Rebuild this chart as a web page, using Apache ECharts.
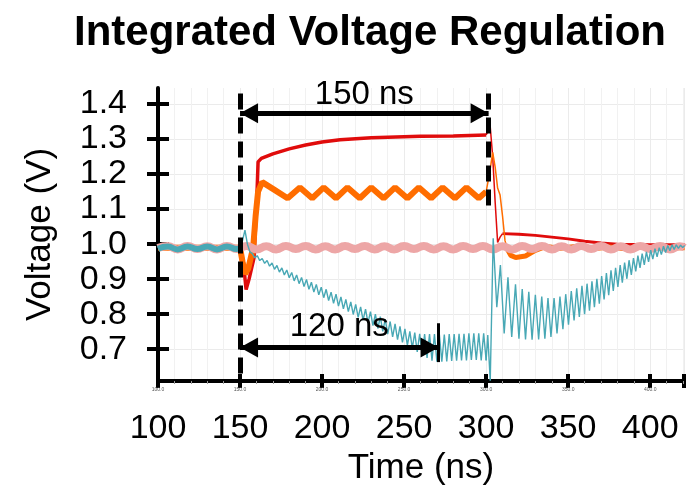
<!DOCTYPE html>
<html><head><meta charset="utf-8">
<script src="https://cdn.jsdelivr.net/npm/echarts@6/dist/echarts.min.js"></script>
<style>html,body{margin:0;padding:0;background:#fff}#c{width:687px;height:491px}</style>
</head><body><div id="c"></div>
<script>
// ---- axis ticks ----
const xTicks = [100, 150, 200, 250, 300, 350, 400];
const yTicks = [0.7, 0.8, 0.9, 1.0, 1.1, 1.2, 1.3, 1.4];

// ---- red trace ----
const redA = [[100,0.99],[150,0.99],[152,0.95],[153.7,0.87],[155.5,0.9],[157,0.93],[158.5,0.96],[160,1.1],[161,1.235],[163,1.245],[170,1.258],[180,1.272],[190,1.283],[200,1.292],[211,1.298],[230,1.304],[260,1.308],[280,1.309],[300,1.312]];
const redB = [[300,1.312],[301.5,1.325],[302.5,1.335],[304,1.25],[305.5,1.12],[307,1.005],[308.5,1.02],[310,1.03]];
const redC = [[310,1.03],[320,1.028],[330,1.025],[340,1.02],[350,1.015],[360,1.008],[370,1.003],[380,1.0],[400,0.998],[421,0.998]];

// ---- orange trace ----
const orangeA = [[100,0.99],[150,0.99],[151.5,0.95],[153,0.915],[155,0.93],[156.5,0.96],[158,0.99],[159.5,1.08],[161,1.15],[163.5,1.177],[171,1.155],[179,1.131],[186.5,1.162],[194,1.131],[201,1.162],[208.5,1.131],[215.5,1.162],[223,1.131],[230,1.162],[237.5,1.131],[244.5,1.162],[252,1.131],[259,1.162],[266.5,1.131],[273.5,1.162],[281,1.131],[288,1.162],[295.5,1.131],[300,1.15]];
const orangeB = [[300,1.15],[302,1.2],[304,1.262],[305.5,1.22],[307,1.16],[308.5,1.14],[310,1.08],[311.5,1.01],[313,0.985]];
const orangeC = [[313,0.985],[315,0.968],[318,0.962],[324,0.966],[330,0.982],[336,0.993],[345,0.988],[355,0.993],[365,0.987],[375,0.992],[385,0.987],[395,0.991],[405,0.989],[421,0.99]];

// ---- pink trace ----
const pink = [[100,0.989],[106,0.995],[112,0.985],[118,0.995],[124,0.986],[130,0.994],[136,0.985],[142,0.995],[148,0.986],[154,0.995],[160,0.985],[166,0.994],[172,0.985],[178,0.995],[184,0.986],[190,0.995],[196,0.985],[202,0.994],[208,0.985],[214,0.995],[220,0.986],[226,0.995],[232,0.985],[238,0.994],[244,0.985],[250,0.995],[256,0.986],[262,0.995],[268,0.985],[274,0.994],[280,0.985],[286,0.995],[292,0.986],[298,0.995],[304,0.985],[310,0.994],[316,0.985],[322,0.995],[328,0.986],[334,0.995],[340,0.985],[346,0.994],[352,0.985],[358,0.995],[364,0.986],[370,0.995],[376,0.985],[382,0.994],[388,0.985],[394,0.995],[400,0.986],[406,0.995],[412,0.985],[418,0.994],[421,0.99]];

// ---- teal trace ----
const tealPre = [[100,0.987],[106,0.993],[112,0.985],[118,0.993],[124,0.986],[130,0.993],[136,0.985],[142,0.993],[148,0.986],[150,0.99]];
const tealDroop = [[150,0.99],[151.5,1.01],[153,1.04],[154.5,1.0],[156,0.978],[157.5,0.973],[159,0.961],[160.5,0.967],[162,0.953],[163.5,0.959],[165,0.945],[166.5,0.953],[168,0.937],[169.5,0.946],[171,0.928],[172.5,0.939],[174,0.920],[175.5,0.932],[177,0.912],[178.5,0.926],[180,0.904],[181.5,0.919],[183,0.895],[184.5,0.912],[186,0.887],[187.5,0.905],[189,0.879],[190.5,0.899],[192,0.871],[193.5,0.891],[195,0.863],[196.5,0.885],[198,0.855],[199.5,0.877],[201,0.847],[202.5,0.871],[204,0.839],[205.5,0.863],[207,0.831],[208.5,0.857],[210,0.823],[211.5,0.849],[213,0.815],[214.5,0.842],[216,0.807],[217.5,0.835],[219,0.799],[220.5,0.828],[222,0.791],[223.5,0.821],[225,0.783],[226.5,0.814],[228,0.775],[229.5,0.807],[231,0.767],[232.5,0.800],[234,0.759],[235.5,0.793],[237,0.751],[238.5,0.786],[240,0.743],[241.5,0.779],[243,0.735],[244.5,0.772],[246,0.727],[247.5,0.765],[249,0.719],[250.5,0.758],[252,0.711],[253.5,0.751],[255,0.703],[256.5,0.747],[258,0.692],[259.5,0.744],[261,0.683],[262.5,0.743],[264,0.675],[265.5,0.743],[267,0.667],[268.5,0.743],[270,0.664],[271.5,0.742],[273,0.664],[274.5,0.742],[276,0.665],[277.5,0.743],[279,0.666],[280.5,0.743],[282,0.667],[283.5,0.744],[285,0.668],[286.5,0.744],[288,0.668],[289.5,0.745],[291,0.669],[292.5,0.745],[294,0.669],[295.5,0.745],[297,0.668],[298.5,0.745],[300,0.668]];
const tealRecover = [[300,0.668],[301,0.74],[302.5,0.61],[304.3,1.017],[306.5,0.82],[308.7,0.94],[311,0.745],[313.3,0.905],[315.6,0.735],[317.9,0.885],[320,0.73],[322,0.872],[324,0.728],[326,0.864],[328,0.727],[330,0.855],[332,0.728],[333.9,0.85],[335.8,0.73],[337.7,0.846],[339.5,0.735],[341.4,0.846],[343.2,0.745],[345,0.85],[346.8,0.757],[348.5,0.857],[350.2,0.77],[351.9,0.866],[353.6,0.782],[355.2,0.874],[356.8,0.792],[358.4,0.881],[360,0.80],[361.5,0.887],[363,0.81],[364.5,0.894],[366,0.82],[367.5,0.901],[369,0.83],[370.4,0.909],[371.9,0.842],[373.3,0.917],[374.7,0.854],[376.1,0.925],[377.5,0.866],[378.9,0.932],[380.3,0.878],[381.7,0.94],[383,0.89],[384.4,0.947],[385.8,0.901],[387.1,0.954],[388.5,0.912],[389.8,0.96],[391.2,0.922],[392.5,0.967],[393.8,0.932],[395.1,0.973],[396.4,0.941],[397.7,0.978],[399,0.949],[400.3,0.983],[401.6,0.957],[402.9,0.987],[404.2,0.964],[405.5,0.99],[406.8,0.97],[408.1,0.994],[409.4,0.976],[410.7,0.996],[412,0.981],[413.3,0.998],[414.6,0.985],[415.9,0.998],[417.2,0.988],[418.5,0.997],[419.8,0.99],[421,0.996]];

// ---- annotations (data coordinates) ----
const stepStart = 150, stepEnd = 301.5, droopEnd = 271;
const arrowTopV = 1.374, arrowLowV = 0.705;
const dashTop = 1.43, dashEndV = 1.1;
const endBar = [0.774, 0.663];
const labelTop = '150 ns', labelLow = '120 ns';

const FONT = '"Liberation Sans", Arial, Helvetica, sans-serif';
const X_MIN = 100, X_MAX = 420.6, Y_MIN = 0.609, Y_MAX = 1.446;

const chart = echarts.init(document.getElementById('c'), null, {renderer: 'canvas'});
const ln = (data, color, w, smooth) => ({
  type: 'line', data, showSymbol: false, smooth: !!smooth, silent: true,
  lineStyle: {color, width: w}, itemStyle: {color}, animation: false, z: 2
});
const arrowLine = {lineStyle: {color: '#000', width: 5, type: 'solid'}};
chart.setOption({
  animation: false,
  title: {text: 'Integrated Voltage Regulation', left: 69, top: 7,
    textStyle: {fontFamily: FONT, fontWeight: 'bold', fontSize: 42, color: '#000'}},
  grid: {left: 158, right: 0, top: 88, bottom: 110, containLabel: false},
  xAxis: [{
    type: 'value', min: X_MIN, max: X_MAX, interval: 50, position: 'bottom',
    name: 'Time (ns)', nameLocation: 'middle', nameGap: 70,
    nameTextStyle: {fontFamily: FONT, fontSize: 35, color: '#000'},
    axisLine: {lineStyle: {color: '#000', width: 4}},
    axisTick: {show: true, length: 7, lineStyle: {color: '#000', width: 4}},
    minorTick: {show: true, splitNumber: 5, length: 3, lineStyle: {color: '#999', width: 1}},
    axisLabel: {fontFamily: FONT, fontSize: 34, color: '#000', margin: 31,
      formatter: v => (xTicks.indexOf(v) >= 0 ? String(v) : '')},
    splitLine: {show: true, lineStyle: {color: '#ebebeb', width: 1}},
    minorSplitLine: {show: true, lineStyle: {color: '#f1f1f1', width: 1}}
  }, {
    type: 'value', min: X_MIN, max: X_MAX, interval: 50, position: 'bottom',
    axisLine: {show: false},
    axisTick: {show: true, inside: true, length: 7, lineStyle: {color: '#000', width: 4}},
    axisLabel: {show: true, fontFamily: FONT, fontSize: 5, color: '#555', margin: 6,
      formatter: v => (xTicks.indexOf(v) >= 0 ? v.toFixed(1) : '')},
    splitLine: {show: false}
  }],
  yAxis: [{
    type: 'value', min: Y_MIN, max: Y_MAX, position: 'left',
    name: 'Voltage (V)', nameLocation: 'middle', nameGap: 100, nameRotate: 90,
    nameTextStyle: {fontFamily: FONT, fontSize: 35, color: '#000'},
    axisLine: {lineStyle: {color: '#000', width: 4}},
    axisTick: {show: true, length: 11, customValues: yTicks, lineStyle: {color: '#000', width: 4}},
    axisLabel: {fontFamily: FONT, fontSize: 34, color: '#000', margin: 31, customValues: yTicks,
      formatter: v => v.toFixed(1)},
    splitLine: {show: true, lineStyle: {color: '#ebebeb', width: 1}}
  }, {
    type: 'value', min: Y_MIN, max: Y_MAX, position: 'left',
    axisLine: {show: false},
    axisTick: {show: true, inside: true, length: 11, customValues: yTicks, lineStyle: {color: '#000', width: 4}},
    axisLabel: {show: false}, splitLine: {show: false}
  }],
  series: [
    ln(redA, '#e00c0c', 3.5), ln(redB, '#e00c0c', 1.5), ln(redC, '#e00c0c', 3),
    ln(orangeA, '#ff6d00', 6), ln(orangeB, '#ff6d00', 1.5), ln(orangeC, '#ff6d00', 5),
    ln(pink, '#eda6a6', 8, true),
    ln(tealPre, '#48a8b5', 6, true), ln(tealDroop, '#48a8b5', 1.4), ln(tealRecover, '#48a8b5', 1.4),
    {
      type: 'line', data: [], silent: true, z: 5,
      markLine: {
        silent: true, animation: false, symbol: ['none', 'none'],
        label: {show: false},
        data: [
          [{coord: [stepStart, dashTop], lineStyle: {type: [16, 8], width: 5, color: '#000'}}, {coord: [stepStart, Y_MIN]}],
          [{coord: [stepEnd, dashTop], lineStyle: {type: [16, 8], width: 5, color: '#000'}}, {coord: [stepEnd, dashEndV]}],
          [{coord: [droopEnd, endBar[0]], lineStyle: {type: 'solid', width: 3, color: '#000'}}, {coord: [droopEnd, endBar[1]]}],
          [{coord: [stepStart, arrowTopV], symbol: 'triangle', symbolSize: [20, 18], symbolOffset: [0, '50%'], ...arrowLine,
            label: {show: true, formatter: labelTop, position: 'middle', distance: 2, fontFamily: FONT, fontSize: 33, color: '#000'}},
           {coord: [stepEnd, arrowTopV], symbol: 'triangle', symbolSize: [20, 18], symbolOffset: [0, '50%']}],
          [{coord: [stepStart, arrowLowV], symbol: 'triangle', symbolSize: [20, 18], symbolOffset: [0, '50%'], ...arrowLine,
            label: {show: true, formatter: labelLow, position: 'middle', distance: 4, fontFamily: FONT, fontSize: 33, color: '#000'}},
           {coord: [droopEnd, arrowLowV], symbol: 'triangle', symbolSize: [20, 18], symbolOffset: [0, '50%']}]
        ]
      }
    }
  ]
});
</script></body></html>
